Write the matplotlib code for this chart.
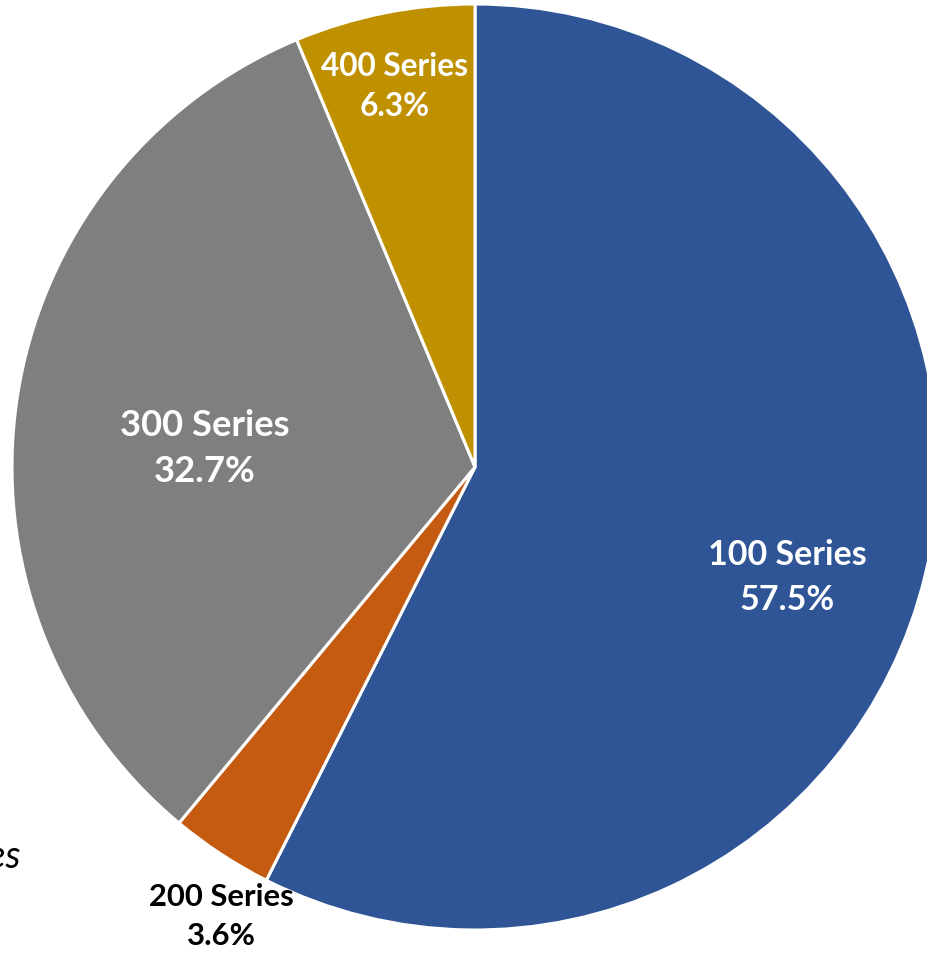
import matplotlib
matplotlib.use("Agg")
import matplotlib.pyplot as plt
import numpy as np

# Share of units by product series
categories = ["100 Series", "200 Series", "300 Series", "400 Series"]
shares = [57.5, 3.6, 32.7, 6.3]
colors = ["#2F5597", "#C55A11", "#7F7F7F", "#BF9000"]
label_colors = ["white", "black", "white", "white"]

# label placement: radial fraction, small angular nudge (degrees), font size
label_radius = [0.715, 1.115, 0.585, 0.84]
label_nudge = [-6.1, 3.9, 4.6, 0.6]
label_size = [24.5, 22.3, 26.2, 22.8]

W, H = 927, 957
fig = plt.figure(figsize=(W / 100, H / 100), dpi=100)
ax = fig.add_axes([0, 0, 1, 1])

cx, cy, R = 475, H - 467, 463
wedges, _ = ax.pie(shares, colors=colors, startangle=90, counterclock=False,
                   center=(cx, cy), radius=R, frame=True,
                   wedgeprops=dict(edgecolor="white", linewidth=2.2))
ax.set_xlim(0, W)
ax.set_ylim(0, H)
ax.set_aspect("equal")
ax.axis("off")

for w, name, val, lr, nd, fs, tc in zip(wedges, categories, shares,
                                         label_radius, label_nudge,
                                         label_size, label_colors):
    mid = np.deg2rad((w.theta1 + w.theta2) / 2 + nd)
    x = cx + lr * R * np.cos(mid)
    y = cy + lr * R * np.sin(mid)
    ax.text(x, y, f"{name}\n{val:.1f}%", ha="center", va="center",
            color=tc, fontsize=fs, fontweight="bold", family="Lato",
            linespacing=1.48)

ax.text(21, H - 857, "Series", ha="right", va="center", fontsize=27,
        style="italic", family="Lato", color="black")

fig.savefig("out.png", dpi=100)
